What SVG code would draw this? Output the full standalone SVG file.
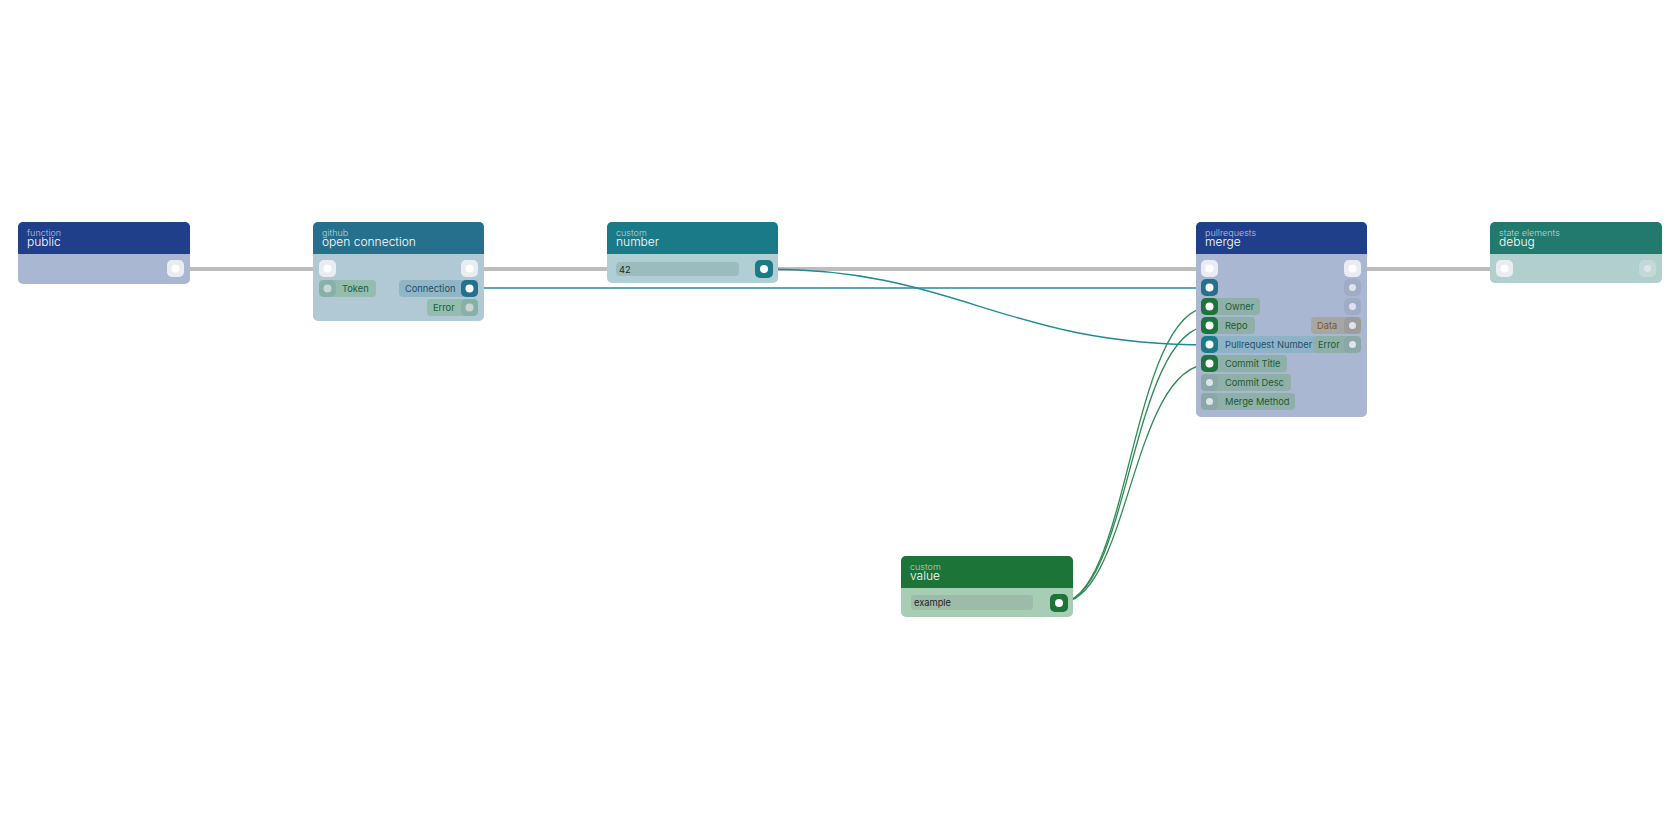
<svg xmlns="http://www.w3.org/2000/svg" width="1680" height="840" viewBox="0 0 1680 840">
<style>
text{font-family:Inter,"Noto Sans",sans-serif}
.cat{font-size:9px;fill:#fff;fill-opacity:.7;font-weight:300}
.ttl{font-size:12px;fill:#fff;font-weight:300}
.lbl{font-size:9.3px}
.g{fill:#1c5a35}.b{fill:#1e4f6a}.o{fill:#7a5a2a}
.exec{fill:#e9edf3}
.dot{fill:#fff}
.ddot{fill:#dfe3ea}
.wire{fill:none;stroke:#bdbdbd;stroke-width:4}
</style>
<rect width="1680" height="840" fill="#fff"/>
<g id="connectors">
<path class="wire" d="M184 269H318"/>
<path class="wire" d="M478 269H1204"/>
<path class="wire" d="M1358 269H1498"/>
<path d="M469 288H1210" stroke="#2d86a2" stroke-width="1.3" fill="none"/>
<path d="M764 269C960 269 1000 345 1210 345" stroke="#1f8a95" stroke-width="1.3" fill="none"/>
<path d="M1059 603C1130 603 1130 307 1210 307" stroke="#2f8a55" stroke-width="1.3" fill="none"/>
<path d="M1059 603C1130 603 1130 326 1210 326" stroke="#2f8a55" stroke-width="1.3" fill="none"/>
<path d="M1059 603C1130 603 1130 364 1210 364" stroke="#2f8a55" stroke-width="1.3" fill="none"/>
</g>
<g id="public">
<rect x="18" y="222" width="172" height="62" rx="5" fill="#aab7d3"/>
<path d="M18 254V227a5 5 0 0 1 5-5h162a5 5 0 0 1 5 5v27z" fill="#1f3f8a"/>
<text class="cat" x="27" y="236">function</text><text class="ttl" x="27" y="246">public</text>
<rect x="167" y="260" width="17" height="17" rx="5" class="exec"/><circle cx="175.5" cy="268.5" r="4" class="dot"/>
</g>
<g id="open-connection">
<rect x="313" y="222" width="171" height="99" rx="5" fill="#b0c9d4"/>
<path d="M313 254V227a5 5 0 0 1 5-5h161a5 5 0 0 1 5 5v27z" fill="#27708d"/>
<text class="cat" x="322" y="236">github</text><text class="ttl" x="322" y="246">open connection</text>
<rect x="319" y="260" width="17" height="17" rx="5" class="exec"/><circle cx="327.5" cy="268.5" r="4" class="dot"/>
<rect x="461" y="260" width="17" height="17" rx="5" class="exec"/><circle cx="469.5" cy="268.5" r="4" class="dot"/>
<rect x="319" y="280" width="57" height="17" rx="4" fill="#94bdb0"/><rect x="319" y="280" width="17" height="17" rx="5" fill="#89b0a6"/><circle cx="327.5" cy="288.5" r="4" fill="#c8d6d4"/>
<text class="lbl g" x="342" y="292">Token</text>
<rect x="399" y="280" width="79" height="17" rx="4" fill="#90b5c5"/><rect x="461" y="280" width="17" height="17" rx="5" fill="#27708d"/><circle cx="469.5" cy="288.5" r="4" class="dot"/>
<text class="lbl b" x="405" y="292">Connection</text>
<rect x="427" y="299" width="51" height="17" rx="4" fill="#94bdb0"/><rect x="461" y="299" width="17" height="17" rx="5" fill="#89b0a6"/><circle cx="469.5" cy="307.5" r="4" fill="#c8d6d4"/>
<text class="lbl g" x="433" y="311">Error</text>
</g>
<g id="number">
<rect x="607" y="222" width="171" height="61" rx="5" fill="#afcfd4"/>
<path d="M607 254V227a5 5 0 0 1 5-5h161a5 5 0 0 1 5 5v27z" fill="#1b7a88"/>
<text class="cat" x="616" y="236">custom</text><text class="ttl" x="616" y="246">number</text>
<rect x="616" y="262" width="123" height="14" rx="4" fill="#9bbcbf"/>
<text class="lbl" x="619" y="273" fill="#222">42</text>
<rect x="755" y="260" width="18" height="18" rx="5" fill="#1b7a88"/><circle cx="764" cy="269" r="4" class="dot"/>
</g>
<g id="merge">
<rect x="1196" y="222" width="171" height="195" rx="5" fill="#aab7d3"/>
<path d="M1196 254V227a5 5 0 0 1 5-5h161a5 5 0 0 1 5 5v27z" fill="#1f3f8a"/>
<text class="cat" x="1205" y="236">pullrequests</text><text class="ttl" x="1205" y="246">merge</text>
<rect x="1201" y="260" width="17" height="17" rx="5" class="exec"/><circle cx="1209.5" cy="268.5" r="4" class="dot"/>
<rect x="1344" y="260" width="17" height="17" rx="5" class="exec"/><circle cx="1352.5" cy="268.5" r="4" class="dot"/>
<rect x="1201" y="279" width="17" height="17" rx="5" fill="#27708d"/><circle cx="1209.5" cy="287.5" r="4" class="dot"/>
<rect x="1344" y="279" width="17" height="17" rx="5" fill="#a0abc6"/><circle cx="1352.5" cy="287.5" r="3.5" class="ddot"/>
<rect x="1344" y="298" width="17" height="17" rx="5" fill="#a0abc6"/><circle cx="1352.5" cy="306.5" r="3.5" class="ddot"/>
<rect x="1201" y="298" width="59" height="17" rx="4" fill="#8fb0a8"/><rect x="1201" y="298" width="17" height="17" rx="5" fill="#1c7439"/><circle cx="1209.5" cy="306.5" r="4" class="dot"/>
<text class="lbl g" x="1225" y="310">Owner</text>
<rect x="1201" y="317" width="54" height="17" rx="4" fill="#8fb0a8"/><rect x="1201" y="317" width="17" height="17" rx="5" fill="#1c7439"/><circle cx="1209.5" cy="325.5" r="4" class="dot"/>
<text class="lbl g" x="1225" y="329">Repo</text>
<rect x="1311" y="317" width="50" height="17" rx="4" fill="#a6a7a4"/><rect x="1344" y="317" width="17" height="17" rx="5" fill="#9c9c9c"/><circle cx="1352.5" cy="325.5" r="3.5" class="ddot"/>
<text class="lbl o" x="1317" y="329">Data</text>
<rect x="1201" y="336" width="115" height="17" rx="4" fill="#8fb3c6"/><rect x="1201" y="336" width="17" height="17" rx="5" fill="#1b7a88"/><circle cx="1209.5" cy="344.5" r="4" class="dot"/>
<text class="lbl b" x="1225" y="348">Pullrequest Number</text>
<rect x="1313" y="336" width="48" height="17" rx="4" fill="#8fb0a8"/><rect x="1344" y="336" width="17" height="17" rx="5" fill="#89a8a6"/><circle cx="1352.5" cy="344.5" r="3.5" class="ddot"/>
<text class="lbl g" x="1318" y="348">Error</text>
<rect x="1201" y="355" width="86" height="17" rx="4" fill="#8fb0a8"/><rect x="1201" y="355" width="17" height="17" rx="5" fill="#1c7439"/><circle cx="1209.5" cy="363.5" r="4" class="dot"/>
<text class="lbl g" x="1225" y="367">Commit Title</text>
<rect x="1201" y="374" width="90" height="17" rx="4" fill="#8fb0a8"/><rect x="1201" y="374" width="17" height="17" rx="5" fill="#89a8a6"/><circle cx="1209.5" cy="382.5" r="3.5" class="ddot"/>
<text class="lbl g" x="1225" y="386">Commit Desc</text>
<rect x="1201" y="393" width="94" height="17" rx="4" fill="#8fb0a8"/><rect x="1201" y="393" width="17" height="17" rx="5" fill="#89a8a6"/><circle cx="1209.5" cy="401.5" r="3.5" class="ddot"/>
<text class="lbl g" x="1225" y="405">Merge Method</text>
</g>
<g id="debug">
<rect x="1490" y="222" width="172" height="61" rx="5" fill="#b1cfcd"/>
<path d="M1490 254V227a5 5 0 0 1 5-5h162a5 5 0 0 1 5 5v27z" fill="#227a6f"/>
<text class="cat" x="1499" y="236">state elements</text><text class="ttl" x="1499" y="246">debug</text>
<rect x="1496" y="260" width="17" height="17" rx="5" class="exec"/><circle cx="1504.5" cy="268.5" r="4" class="dot"/>
<rect x="1639" y="260" width="17" height="17" rx="5" fill="#c2d9d7"/><circle cx="1647.5" cy="268.5" r="3.5" class="ddot"/>
</g>
<g id="value">
<rect x="901" y="556" width="172" height="61" rx="5" fill="#a7cdb5"/>
<path d="M901 588V561a5 5 0 0 1 5-5h162a5 5 0 0 1 5 5v27z" fill="#1c7439"/>
<text class="cat" x="910" y="570">custom</text><text class="ttl" x="910" y="580">value</text>
<rect x="911" y="595" width="122" height="15" rx="4" fill="#9cbca9"/>
<text class="lbl" x="914" y="606" fill="#222">example</text>
<rect x="1050" y="594" width="18" height="18" rx="5" fill="#1c7439"/><circle cx="1059" cy="603" r="4" class="dot"/>
</g>
</svg>
